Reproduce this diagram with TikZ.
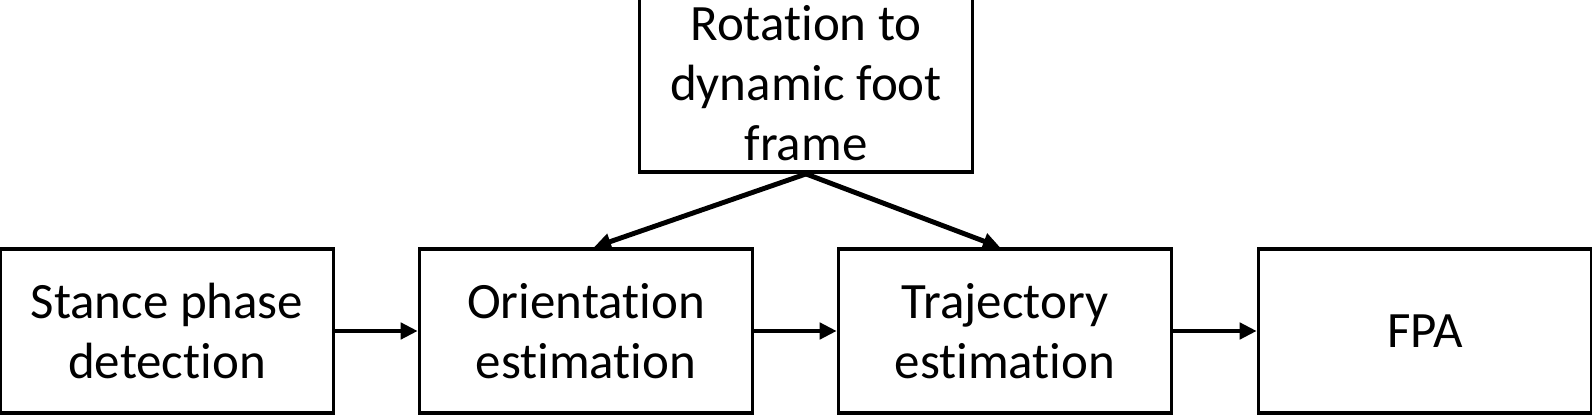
\documentclass[tikz,border=0pt]{standalone}
\usepackage{fontspec}
\setmainfont[Ligatures=NoCommon]{Carlito}
\usetikzlibrary{arrows.meta}
\begin{document}
\begin{tikzpicture}[
    box/.style={draw, line width=1pt, minimum width=3.33cm, minimum height=1.64cm, align=center, font=\fontsize{14.5}{17}\selectfont},
    flow/.style={line width=1.4pt, -{Triangle[length=1.7mm, width=1.6mm]}}]
    \useasboundingbox (0,0) rectangle (15.92,-4.16);

    % Main chain
    \node[box] (stance) at (1.67,-3.31) {Stance phase\\detection};
    \node[box] (orient) at (5.86,-3.31) {Orientation\\estimation};
    \node[box] (traj) at (10.05,-3.31) {Trajectory\\estimation};
    \node[box] (fpa) at (14.25,-3.31) {FPA};

    % Frame rotation
    \node[box, minimum height=1.66cm] (rot) at (8.06,-0.83) {Rotation to\\dynamic foot\\frame};

    \draw[flow] (stance) -- (orient);
    \draw[flow] (orient) -- (traj);
    \draw[flow] (traj) -- (fpa);
    \draw[flow] (rot.south) -- ([xshift=0.08cm]orient.north);
    \draw[flow] (rot.south) -- ([xshift=-0.05cm]traj.north);
\end{tikzpicture}
\end{document}
